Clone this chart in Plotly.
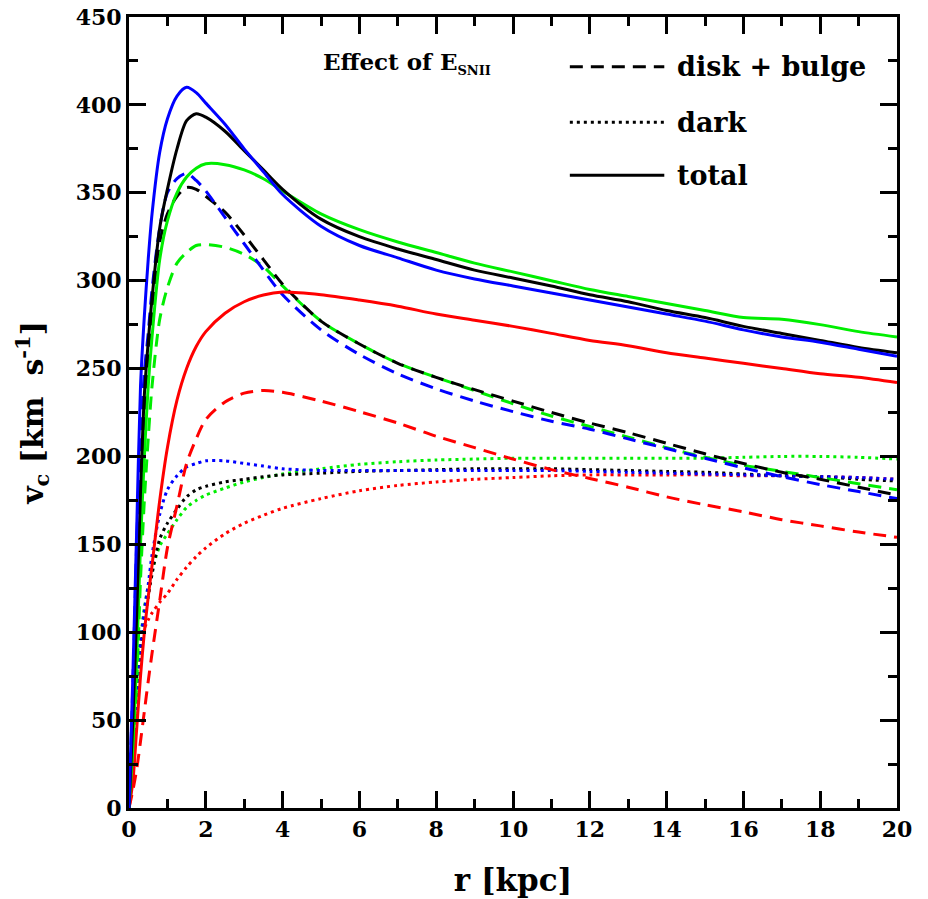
import plotly.graph_objects as go

# Galactocentric radius grid [kpc]
r_kpc = [0, 0.1, 0.2, 0.3, 0.4, 0.5, 0.6, 0.8, 1.0, 1.25, 1.5, 1.75, 2.0, 2.5, 3.0,
         3.5, 4.0, 5, 6, 7, 8, 9, 10, 11, 12, 13, 14, 15, 16, 17, 18, 19, 20]

# Circular velocity [km/s] for the four E_SNII runs (black, blue, green, red)
# total
total_black = [0, 50, 110, 180, 235, 265, 290, 330, 352, 375, 391, 395, 393, 385, 374,
               363, 352, 335, 325, 318, 312, 306, 301.5, 297, 292, 288, 283, 279, 274, 270, 266, 262, 259]
total_blue = [0, 75, 158, 240, 280, 312, 338, 373, 392, 405, 410, 407, 401, 389, 375,
              362, 349, 331, 320, 313, 306, 301, 297, 293, 289, 285, 281, 277, 272, 268, 265, 261, 257]
total_green = [0, 35, 85, 150, 200, 240, 268, 312, 334, 350, 359, 364, 366.5, 366, 363,
               358, 351, 338, 329, 322, 316, 310, 305, 300, 295, 291, 287, 283, 279, 278, 275, 271, 268]
total_red = [0, 15, 45, 75, 100, 120, 138, 175, 205, 232, 250, 262.5, 271, 281.5, 288,
             291.8, 293.5, 292, 289, 285.5, 281, 277.5, 274, 270, 266, 263, 259, 256, 253, 250, 247, 245, 242]

# disk + bulge
disk_black = [0, 55, 120, 180, 225, 258, 283, 322, 338, 348, 353, 352, 348, 339, 326,
              312, 298, 277, 264, 253, 245, 238, 231.5, 225, 219, 213.5, 207.5, 201.5, 196, 191, 187, 182.5, 178]
disk_blue = [0, 70, 150, 210, 248, 270, 295, 330, 350, 358, 361, 357, 351, 336, 321,
             306, 292, 272, 258, 247, 238.5, 231.5, 225.5, 220, 215.5, 210, 204.5, 199, 193.5, 188.5, 184, 180, 176]
disk_green = [0, 30, 70, 130, 175, 210, 240, 278, 296, 310, 316, 320, 320.5, 319, 315,
              308, 297, 277, 264, 253, 245, 237.5, 230, 223, 217, 211, 205, 199.5, 195, 191.5, 188, 184.5, 181]
disk_red = [0, 10, 22, 38, 55, 72, 88, 118, 148, 172, 196, 210, 221, 231, 236,
            237.5, 236.5, 231.5, 225.5, 219, 211.5, 205, 198.5, 192.5, 187.5, 182.5, 177, 172.5, 168.5, 164, 160.5, 157, 154]

# dark matter
dark_black = [0, 28, 60, 88, 106, 120, 133, 153, 162, 170, 177, 181, 183, 185.5, 187,
              188.5, 189.5, 190.5, 191.5, 192, 192.5, 193, 193, 193, 192.5, 192, 191.5, 191, 190, 189, 188.5, 187, 186]
dark_blue = [0, 30, 65, 95, 112, 127, 144, 167, 181, 189, 194, 196, 197.5, 197.5, 196,
             194.5, 193, 192, 192, 192, 192, 192, 192, 192, 191.5, 191, 190.5, 190, 189.5, 189, 188.5, 188, 187]
dark_green = [0, 25, 58, 95, 114, 126, 135, 149, 156, 164, 171, 175, 178, 182, 185.5,
              188, 190, 193, 195.5, 197, 198, 198.5, 199, 199, 199, 199, 199, 199, 199.5, 200, 200, 199.5, 198.5]
dark_red = [0, 40, 75, 92, 102, 107, 111, 117, 122, 130, 137, 143, 148, 156, 162,
            166.5, 170.5, 176, 180.5, 183.5, 185.5, 187, 188, 189, 189.5, 189.5, 189.5, 189.5, 189, 189, 188.5, 188, 187]

run_colors = {"black": "#000000", "blue": "#0000ff", "green": "#00ee00", "red": "#ff0000"}

DASH_DISK = "13px,8px"
DASH_DARK = "3px,4px"

components = [
    ("dark", {"black": dark_black, "blue": dark_blue, "green": dark_green, "red": dark_red}, DASH_DARK),
    ("disk + bulge", {"black": disk_black, "blue": disk_blue, "green": disk_green, "red": disk_red}, DASH_DISK),
    ("total", {"black": total_black, "blue": total_blue, "green": total_green, "red": total_red}, "solid"),
]

FONT = "DejaVu Serif"

fig = go.Figure()
for comp_name, series, dash in components:
    for run in ["red", "green", "black", "blue"]:
        fig.add_trace(go.Scatter(
            x=r_kpc, y=series[run], mode="lines",
            line=dict(color=run_colors[run], width=3, dash=dash, shape="spline", smoothing=0.8),
            name=f"{comp_name} ({run})", showlegend=False, hoverinfo="skip",
        ))

axis_common = dict(
    showline=True, linecolor="black", linewidth=3, mirror="allticks",
    ticks="inside", ticklen=17, tickwidth=2.5, tickcolor="black",
    showgrid=False, zeroline=False, automargin=False,
    tickfont=dict(family=FONT, size=22, color="black", weight="bold"),
)

fig.update_xaxes(
    range=[0, 20], tick0=0, dtick=2,
    minor=dict(dtick=1, ticks="inside", ticklen=9, tickwidth=2.5, tickcolor="black"),
    title=dict(text="r [kpc]", font=dict(family=FONT, size=31, color="black", weight="bold"), standoff=28),
    **axis_common,
)
fig.update_yaxes(
    range=[0, 450], tick0=0, dtick=50,
    minor=dict(dtick=25, ticks="inside", ticklen=9, tickwidth=2.5, tickcolor="black"),
    title=dict(text="v<sub>c</sub> [km\u00a0\u00a0s<sup>-1</sup>]",
               font=dict(family=FONT, size=30, color="black", weight="bold"), standoff=24),
    **axis_common,
)

# Line-style key, drawn in paper coordinates
key_font = dict(family=FONT, size=27, color="black", weight="bold")
key_rows = [("disk + bulge", DASH_DISK, 0.937), ("dark", DASH_DARK, 0.867), ("total", "solid", 0.800)]
for label, dash, yk in key_rows:
    fig.add_shape(type="line", xref="paper", yref="paper", x0=0.574, x1=0.697, y0=yk, y1=yk,
                  line=dict(color="black", width=3, dash=dash))
    fig.add_annotation(xref="paper", yref="paper", x=0.711, y=yk, text=label, showarrow=False,
                       xanchor="left", yanchor="middle", font=key_font)

fig.add_annotation(xref="paper", yref="paper", x=0.250, y=0.942,
                   text="Effect of E<sub><span style='font-size:13px'>SNII</span></sub>",
                   showarrow=False, xanchor="left", yanchor="middle",
                   font=dict(family=FONT, size=23, color="black", weight="bold"))

fig.update_layout(
    width=928, height=899,
    margin=dict(l=129, r=31, t=17, b=91),
    paper_bgcolor="white", plot_bgcolor="white",
    showlegend=False,
)

fig.write_html("out.html")
